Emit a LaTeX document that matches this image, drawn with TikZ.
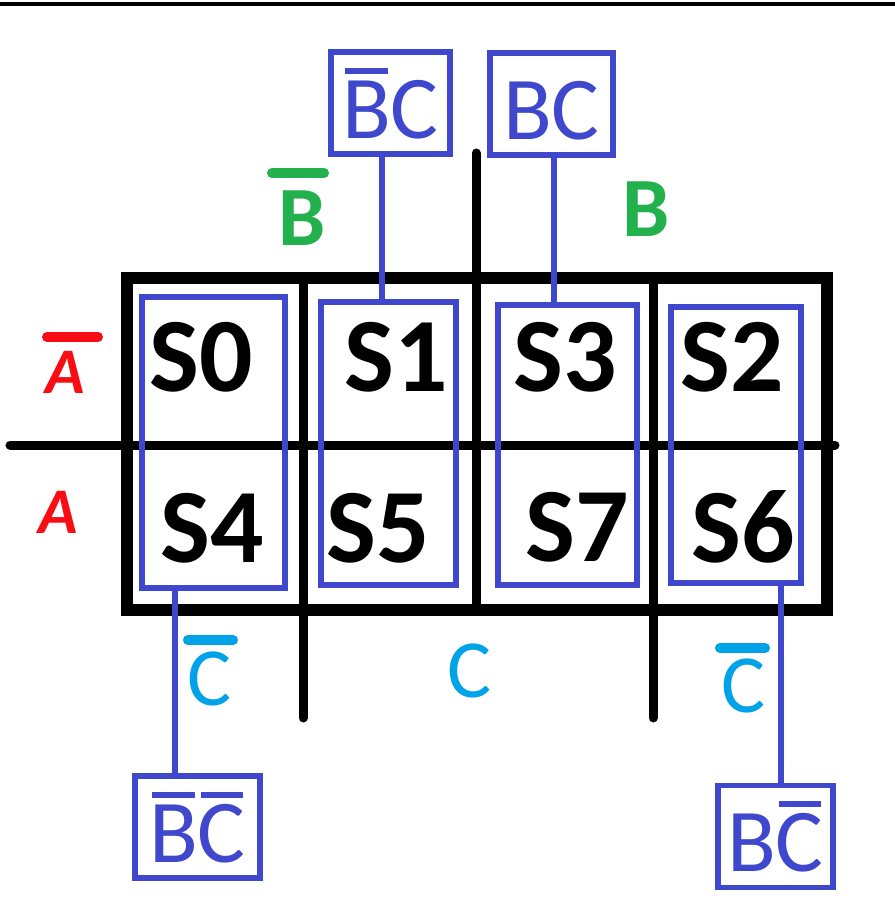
\documentclass[tikz,border=0pt]{standalone}
\usepackage{fontspec}
\setmainfont{Carlito}
\usepackage{tikz}

\definecolor{pblue}{RGB}{63,72,204}
\definecolor{pgreen}{RGB}{34,177,76}
\definecolor{pred}{RGB}{250,12,20}
\definecolor{pcyan}{RGB}{0,162,232}

\newcommand\nbar[1]{\leavevmode\setbox0\hbox{#1}%
  \rlap{\raise\dimexpr\ht0+0.06cm\relax\hbox{\kern0.03cm\rule{\dimexpr\wd0-0.06cm\relax}{0.06cm}}}\box0}

\tikzset{
  frame/.style={line width=0.12cm},
  gline/.style={line width=0.09cm, line cap=round},
  cell/.style={inner sep=0pt, font=\bfseries\fontsize{30}{30}\selectfont},
  grp/.style={draw=pblue, line width=0.055cm, inner sep=0pt, outer sep=0pt},
  lbox/.style={draw=pblue, text=pblue, line width=0.055cm, inner sep=0pt, outer sep=0pt,
    minimum width=1.2cm, minimum height=1.02cm, text height=0.7cm, text depth=0pt,
    font=\fontsize{25.5}{25.5}\selectfont},
  link/.style={draw=pblue, line width=0.055cm},
  varB/.style={inner sep=0pt, text=pgreen, font=\bfseries\fontsize{24}{24}\selectfont},
  varA/.style={inner sep=0pt, text=pred, font=\bfseries\itshape\fontsize{18.5}{18.5}\selectfont},
  varC/.style={inner sep=0pt, text=pcyan, font=\fontsize{23.5}{23.5}\selectfont},
  negbar/.style={line width=0.1cm, line cap=round}
}

\begin{document}
\begin{tikzpicture}[x=0.01cm,y=-0.01cm]
\useasboundingbox (0,0) rectangle (895,900);
\draw[line width=0.03cm] (0,4) -- (895,4);

\draw[frame] (127,278) rectangle (827,610);
\draw[gline] (10,445) -- (835,445);
\draw[gline] (303,278) -- (303,718);
\draw[gline] (476,153) -- (476,610);
\draw[gline] (653,278) -- (653,718);

\node[cell] (s0) at (201,357) {S0};
\node[cell] (s1) at (396,357) {S1};
\node[cell] (s3) at (565,357) {S3};
\node[cell] (s2) at (732,357) {S2};
\node[cell] (s4) at (212,528) {S4};
\node[cell] (s5) at (378,528) {S5};
\node[cell] (s7) at (577,527) {S7};
\node[cell] (s6) at (743,527) {S6};

\node[grp, minimum width=1.43cm, minimum height=2.91cm] (g04) at (213.5,442.5) {};
\node[grp, minimum width=1.35cm, minimum height=2.83cm] (g15) at (388.5,443.5) {};
\node[grp, minimum width=1.39cm, minimum height=2.80cm] (g37) at (567.5,445) {};
\node[grp, minimum width=1.30cm, minimum height=2.76cm] (g26) at (736,445) {};

\node[lbox, minimum width=1.19cm] (nbc) at (390.5,103) {\nbar{B}C};
\node[lbox, minimum width=1.23cm] (bc) at (551.5,104) {BC};
\node[lbox, minimum width=1.25cm] (nbnc) at (197.5,827) {\nbar{B}\nbar{C}};
\node[lbox, minimum width=1.15cm] (bnc) at (775.5,836.5) {B\nbar{C}};

\draw[link] (nbc.south -| 382,0) -- (g15.north -| 382,0);
\draw[link] (bc.south -| 554,0) -- (g37.north -| 554,0);
\draw[link] (g04.south -| 175,0) -- (nbnc.north -| 175,0);
\draw[link] (g26.south -| 781,0) -- (bnc.north -| 781,0);

\node[varB] (vnb) at (302,218) {B};
\draw[negbar, pgreen] (272,173) -- (324,173);
\node[varB] (vb) at (646,209) {B};
\node[varA] (vna) at (65,372) {A};
\draw[negbar, pred] (47,337) -- (98,337);
\node[varA] (va) at (58,512) {A};
\node[varC] (vnc1) at (210,679) {C};
\draw[negbar, pcyan] (188,640) -- (233,640);
\node[varC] (vc) at (470,671) {C};
\node[varC] (vnc2) at (744,686) {C};
\draw[negbar, pcyan] (720,648) -- (765,648);
\end{tikzpicture}
\end{document}
